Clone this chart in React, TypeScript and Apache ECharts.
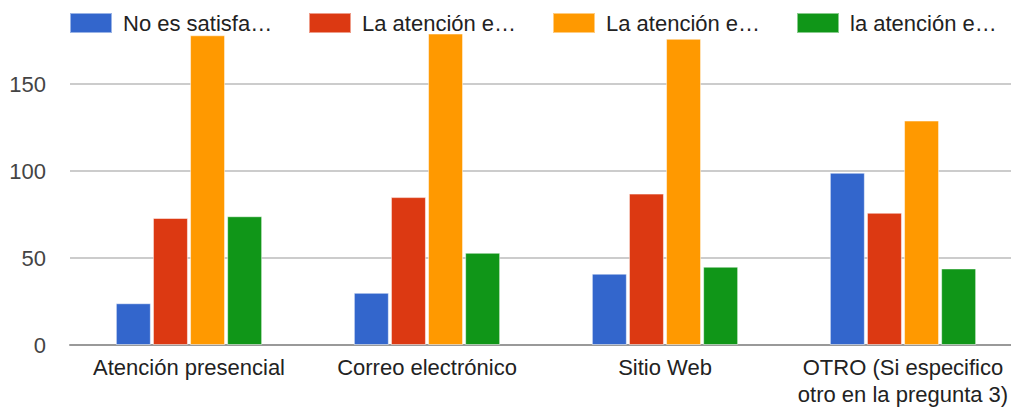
import React, { useEffect, useRef } from "react";
import * as echarts from "echarts";

const categories = [
  "Atención presencial",
  "Correo electrónico",
  "Sitio Web",
  "OTRO (Si especifico\notro en la pregunta 3)",
];
const seriesNames = [
  "No es satisfactoria",
  "La atención es regular",
  "La atención es buena",
  "la atención es excelente",
];
const legendLabels = ["No es satisfa…", "La atención e…", "La atención e…", "la atención e…"];
const noSatisfactoria = [24, 30, 41, 99];
const regular = [73, 85, 87, 76];
const buena = [178, 179, 176, 129];
const excelente = [74, 53, 45, 44];
const seriesValues = [noSatisfactoria, regular, buena, excelente];
const colors = ["#3366cc", "#dc3912", "#ff9900", "#109618"];
const yTicks = [0, 50, 100, 150];

const FONT = "'Liberation Sans', Arial, sans-serif";
const legendLefts = [69, 308, 552, 796];

export default function App() {
  const ref = useRef<HTMLDivElement>(null);
  useEffect(() => {
    if (!ref.current) return;
    const chart = echarts.init(ref.current, null, { renderer: "svg" });
    chart.setOption({
      animation: false,
      backgroundColor: "#ffffff",
      textStyle: { fontFamily: FONT },
      legend: seriesNames.map((name, i) => ({
        left: legendLefts[i],
        top: 12,
        icon: "rect",
        itemWidth: 42,
        itemHeight: 20,
        padding: 0,
        selectedMode: false,
        formatter: (n: string) => legendLabels[seriesNames.indexOf(n)],
        textStyle: { fontSize: 22, color: "#222222", fontFamily: FONT, padding: [0, 0, 0, 6] },
        data: [name],
      })),
      grid: {
        left: 70,
        right: -11,
        top: -3,
        bottom: 66,
        containLabel: false,
        outerBoundsMode: "none",
      },
      xAxis: {
        type: "category",
        data: categories,
        axisTick: { show: false },
        axisLine: { lineStyle: { color: "#999999", width: 2 } },
        axisLabel: {
          interval: 0,
          fontSize: 22,
          color: "#222222",
          fontFamily: FONT,
          margin: 9,
          lineHeight: 27,
        },
      },
      yAxis: {
        type: "value",
        min: 0,
        max: 200,
        interval: 50,
        axisLine: { show: false },
        axisTick: { show: false },
        splitLine: { lineStyle: { color: "#cccccc", width: 2 } },
        axisLabel: {
          fontSize: 22,
          color: "#444444",
          fontFamily: FONT,
          margin: 24,
          formatter: (v: number) => (yTicks.includes(v) ? String(v) : ""),
        },
      },
      series: seriesNames.map((name, i) => ({
        name,
        type: "bar",
        data: seriesValues[i],
        barWidth: 35,
        barGap: "6%",
        itemStyle: { color: colors[i], borderColor: "rgba(255,255,255,0.5)", borderWidth: 1 },
      })),
    });
    return () => chart.dispose();
  }, []);
  return (
    <div
      ref={ref}
      style={{ position: "absolute", left: 0, top: 0, width: 1011, height: 411 }}
    />
  );
}
